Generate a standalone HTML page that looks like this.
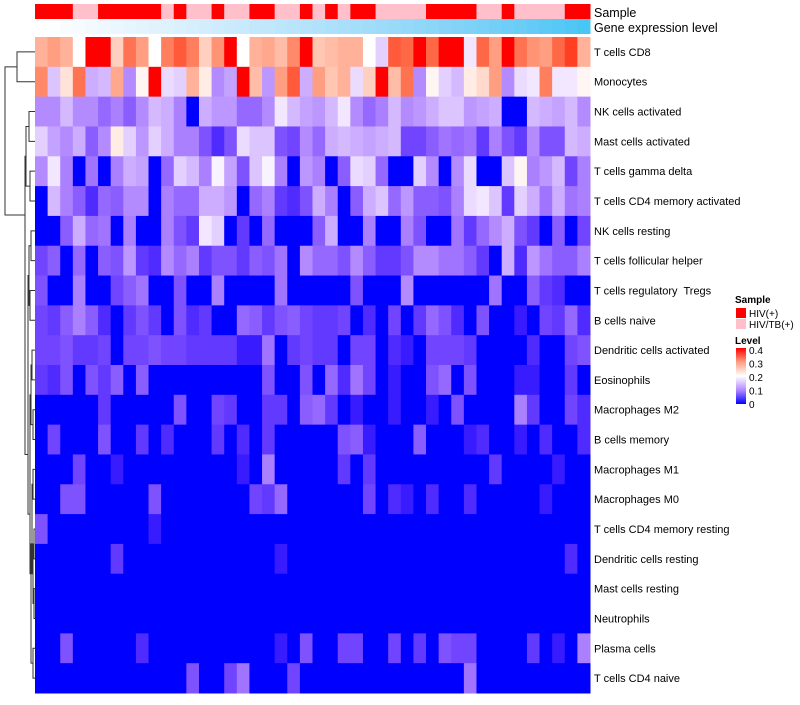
<!DOCTYPE html>
<html><head><meta charset="utf-8"><style>
body{margin:0;background:#fff;font-family:"Liberation Sans",sans-serif;}
svg text{font-family:"Liberation Sans",sans-serif;white-space:pre;}
</style></head><body>
<svg id="chart" width="800" height="700" xmlns="http://www.w3.org/2000/svg">
<g id="dendro" stroke="#333" stroke-width="1" fill="none"></g>
<g id="cells"></g>
<g id="annot"></g>
<g id="labels" font-size="11" fill="#000"></g>
<text x="594" y="17" font-size="12.5">Sample</text>
<text x="594" y="32" font-size="12.5">Gene expression level</text>
<g id="legend"></g>
</svg>
<script>
const rowNames=["T cells CD8","Monocytes","NK cells activated","Mast cells activated","T cells gamma delta","T cells CD4 memory activated","NK cells resting","T cells follicular helper","T cells regulatory  Tregs","B cells naive","Dendritic cells activated","Eosinophils","Macrophages M2","B cells memory","Macrophages M1","Macrophages M0","T cells CD4 memory resting","Dendritic cells resting","Mast cells resting","Neutrophils","Plasma cells","T cells CD4 naive"];
const sampleGroups=[1,1,1,0,0,1,1,1,1,1,0,1,0,0,1,0,0,1,1,0,0,1,0,1,0,1,1,0,0,0,0,1,1,1,1,0,0,1,0,0,0,0,1,1];
const legendTicks=[0,0.1,0.2,0.3,0.4];
const r1=[.28,.3,.28,.2,.4,.4,.25,.34,.3,.2,.33,.36,.33,.25,.31,.4,.2,.28,.29,.27,.32,.4,.26,.27,.28,.28,.2,.16,.36,.35,.4,.35,.4,.4,.18,.35,.3,.4,.34,.31,.3,.35,.38,.28];
const r2=[.32,.15,.23,.34,.13,.14,.29,.1,.21,.4,.17,.16,.28,.22,.1,.12,.4,.27,.11,.3,.36,.13,.3,.26,.28,.17,.25,.4,.27,.34,.1,.21,.16,.14,.22,.24,.3,.1,.17,.18,.33,.18,.18,.21];
const r3=[.1,.1,.14,.1,.1,.07,.09,.06,.1,.14,.13,.09,0,.13,.11,.11,.07,.07,.1,.18,.14,.12,.11,.14,.18,.1,.07,.09,.14,.1,.11,.13,.15,.15,.11,.12,.13,0,0,.14,.13,.12,.14,.1];
const r4=[.16,.12,.1,.13,.06,.1,.22,.16,.11,.16,.13,.09,.09,.05,.02,.05,.17,.15,.15,.05,.04,.1,.07,.13,.14,.13,.12,.13,.14,.04,.04,.06,.08,.07,.08,.03,.09,.05,.03,.1,.05,.05,.14,.13];
const r5=[.1,.18,.09,0,.08,0,.09,.13,.12,0,.07,.16,.14,.09,.19,.12,.05,.15,.19,.09,0,.11,.09,0,.06,.17,.16,.07,0,0,.16,.1,0,.1,.17,0,0,.15,.21,.09,.11,.14,.04,.09];
const r6=[0,.14,.09,.06,.02,.07,.06,.1,.1,0,.09,.07,.07,.13,.13,.11,0,.07,.09,.03,.02,.05,.13,.09,0,.06,.13,.15,.07,.11,.06,.06,.05,.09,.17,.18,.15,.03,.16,.13,.08,.13,.08,.09];
const r7=[0,0,.06,.13,.07,.08,0,.09,0,0,.09,.05,.03,.18,.16,0,.03,0,.07,0,0,0,.06,.13,0,0,.09,0,0,.09,.05,0,0,.08,.03,.07,.1,.13,.05,.03,0,.06,0,.04];
const r8=[.04,.06,0,.07,0,.06,.05,.11,.03,.02,.1,.07,.09,.03,.05,.05,.03,.06,.05,.08,0,.1,.07,.07,.05,.1,.06,.03,.03,.05,.1,.1,.08,.08,.06,.03,0,.13,.02,.11,.08,.06,.06,.09];
const r9=[.05,0,0,.09,0,0,.04,.06,.08,0,0,.05,0,0,.09,0,0,0,0,.08,0,0,0,0,0,.05,0,0,0,.1,0,0,0,0,0,0,.08,0,0,.06,.03,.02,0,0];
const r10=[.04,.03,.06,.09,.06,.02,0,.03,.05,.03,0,.05,.02,.03,0,0,.07,.06,.03,.05,.06,.04,.03,.03,.04,0,.02,0,.04,0,.03,.07,.05,.02,0,.05,0,0,.01,0,.04,.03,.07,.02];
const r11=[.04,.04,.05,.03,.03,.04,0,.04,.04,.05,.04,.04,.03,.03,.03,.03,.01,.01,.08,0,.03,.04,.03,.03,0,.04,.04,0,.02,.01,0,.04,.04,.04,.03,0,0,0,0,.02,0,0,.04,.05];
const r12=[.03,.02,.05,0,.05,.03,.06,0,.06,0,0,0,0,0,0,0,0,0,.05,0,0,.05,0,.07,.02,.08,.04,0,.01,0,0,.05,.07,0,.05,0,0,0,.01,.01,0,0,.03,0];
const r13=[0,0,0,0,0,.03,0,0,0,0,0,.05,0,0,.04,.03,0,0,.03,.03,0,.06,.07,.03,0,.01,0,0,.01,0,0,.01,0,.05,0,0,0,0,.09,.03,0,0,.04,.02];
const r14=[0,.04,0,0,0,.05,0,0,.03,0,.02,0,0,0,.03,0,.02,0,.03,0,0,0,0,0,.05,.06,.01,0,0,0,.06,0,0,0,.01,.02,0,0,.01,0,.02,0,0,.02];
const r15=[0,0,0,.04,0,0,.01,0,0,0,0,0,0,0,0,0,.01,0,.09,0,0,0,0,0,.03,0,.03,0,0,0,0,0,0,0,0,0,.03,0,0,0,0,.01,0,0];
const r16=[0,0,.05,.05,0,0,0,0,0,.05,0,0,0,0,0,0,0,.04,.03,.07,0,0,0,0,0,0,.04,0,.02,.01,0,.02,0,0,.02,0,0,0,0,0,.01,0,0,0];
const r17=[.05,0,0,0,0,0,0,0,0,.01,0,0,0,0,0,0,0,0,0,0,0,0,0,0,0,0,0,0,0,0,0,0,0,0,0,0,0,0,0,0,0,0,0,0];
const r18=[0,0,0,0,0,0,.03,0,0,0,0,0,0,0,0,0,0,0,0,.01,0,0,0,0,0,0,0,0,0,0,0,0,0,0,0,0,0,0,0,0,0,0,.02,0];
const r19=[0,0,0,0,0,0,0,0,0,0,0,0,0,0,0,0,0,0,0,0,0,0,0,0,0,0,0,0,0,0,0,0,0,0,0,0,0,0,0,0,0,0,0,0];
const r20=[0,0,0,0,0,0,0,0,0,0,0,0,0,0,0,0,0,0,0,0,0,0,0,0,0,0,0,0,0,0,0,0,0,0,0,0,0,0,0,0,0,0,0,0];
const r21=[0,0,.05,0,0,0,0,0,.02,0,0,0,0,0,0,0,0,0,0,.01,0,.05,0,0,.04,.04,0,0,.04,0,.03,0,.05,.04,.04,0,0,0,0,.03,0,.01,0,.09];
const r22=[0,0,0,0,0,0,0,0,0,0,0,0,.05,0,0,.04,.08,0,0,0,.04,0,0,0,0,0,0,0,0,0,0,0,0,0,.08,0,0,0,0,0,0,0,0,0];
const values=[r1,r2,r3,r4,r5,r6,r7,r8,r9,r10,r11,r12,r13,r14,r15,r16,r17,r18,r19,r20,r21,r22];

const NS="http://www.w3.org/2000/svg";
const X0=35,X1=590,Y0=37,Y1=693;
const nCols=sampleGroups.length,nRows=rowNames.length;
const cw=(X1-X0)/nCols,rh=(Y1-Y0)/nRows;
const xPos=c=>X0+c*cw, yPos=r=>Y0+r*rh;

function toLin(c){c/=255;return c<=0.04045?c/12.92:Math.pow((c+0.055)/1.055,2.4);}
function fromLin(c){c=c<=0.0031308?12.92*c:1.055*Math.pow(c,1/2.4)-0.055;return Math.max(0,Math.min(255,Math.round(c*255)));}
function rgb2lab(r,g,b){r=toLin(r);g=toLin(g);b=toLin(b);
 let x=(r*0.4124+g*0.3576+b*0.1805)/0.95047,y=r*0.2126+g*0.7152+b*0.0722,z=(r*0.0193+g*0.1192+b*0.9505)/1.08883;
 const f=t=>t>0.008856?Math.cbrt(t):7.787*t+16/116;x=f(x);y=f(y);z=f(z);
 return [116*y-16,500*(x-y),200*(y-z)];}
function lab2rgb(L,a,b){let y=(L+16)/116,x=a/500+y,z=y-b/200;
 const fi=t=>t*t*t>0.008856?t*t*t:(t-16/116)/7.787;x=fi(x)*0.95047;y=fi(y);z=fi(z)*1.08883;
 const r=x*3.2406+y*-1.5372+z*-0.4986,g=x*-0.9689+y*1.8758+z*0.0415,bb=x*0.0557+y*-0.2040+z*1.0570;
 return `rgb(${fromLin(r)},${fromLin(g)},${fromLin(bb)})`;}
const LB=rgb2lab(0,0,255),LW=rgb2lab(255,255,255),LR=rgb2lab(255,0,0);
function color(v){v=Math.max(0,Math.min(0.4,v));let a,b,t;
 if(v<=0.2){a=LB;b=LW;t=v/0.2;}else{a=LW;b=LR;t=(v-0.2)/0.2;}
 return lab2rgb(a[0]+(b[0]-a[0])*t,a[1]+(b[1]-a[1])*t,a[2]+(b[2]-a[2])*t);}
const LS=rgb2lab(255,255,255),LE=rgb2lab(72,198,245);
function geneColor(t){return lab2rgb(LS[0]+(LE[0]-LS[0])*t,LS[1]+(LE[1]-LS[1])*t,LS[2]+(LE[2]-LS[2])*t);}

const cells=document.getElementById('cells');
values.forEach((row,r)=>row.forEach((v,c)=>{
 const el=document.createElementNS(NS,'rect');
 el.setAttribute('x',xPos(c));el.setAttribute('y',yPos(r));
 el.setAttribute('width',cw+0.5);el.setAttribute('height',rh+0.5);
 el.setAttribute('fill',color(v));
 
 
 cells.appendChild(el);
}));
const annot=document.getElementById('annot');
sampleGroups.forEach((g,c)=>{
 const s=document.createElementNS(NS,'rect');
 s.setAttribute('x',xPos(c));s.setAttribute('y',4);s.setAttribute('width',cw+0.5);s.setAttribute('height',15);
 s.setAttribute('fill',g?'#FF0000':'#FFC0CB');
 
 
 annot.appendChild(s);
 const e=document.createElementNS(NS,'rect');
 e.setAttribute('x',xPos(c));e.setAttribute('y',19);e.setAttribute('width',cw+0.5);e.setAttribute('height',15);
 e.setAttribute('fill',geneColor(c/(nCols-1)));
 
 
 annot.appendChild(e);
});
const labels=document.getElementById('labels');
rowNames.forEach((n,r)=>{
 const t=document.createElementNS(NS,'text');
 t.setAttribute('x',594);t.setAttribute('y',yPos(r)+rh/2+4);t.textContent=n;
 
 
 labels.appendChild(t);
});
const yc=r=>yPos(r)+rh/2;
const dsegs=[];
function join(x,ya,yb,xa,xb){dsegs.push(`M${xa},${ya}H${x}V${yb}H${xb}`);}
join(17,yc(0),yc(1),X0,X0);
join(29,yc(2),yc(3),X0,X0);
join(30,yc(4),yc(5),X0,X0);
join(26,(yc(2)+yc(3))/2,(yc(4)+yc(5))/2,29,30);
join(31,yc(6),yc(7),X0,X0);
join(30,yc(8),yc(9),X0,X0);
join(29,(yc(6)+yc(7))/2,(yc(8)+yc(9))/2,31,30);
join(32,yc(10),yc(11),X0,X0);
join(33,yc(12),yc(13),X0,X0);
join(31,(yc(10)+yc(11))/2,(yc(12)+yc(13))/2,32,33);
join(33,yc(14),yc(15),X0,X0);
join(34,yc(16),yc(17),X0,X0);
join(34,yc(18),yc(19),X0,X0);
join(33,(yc(16)+yc(17))/2,(yc(18)+yc(19))/2,34,34);
join(32,(yc(14)+yc(15))/2,(yc(16)+yc(19))/2,33,33);
join(33,yc(20),yc(21),X0,X0);
join(31,(yc(14)+yc(19))/2,(yc(20)+yc(21))/2,32,33);
join(30,(yc(10)+yc(13))/2,(yc(14)+yc(21))/2,31,31);
join(28,(yc(6)+yc(9))/2,(yc(10)+yc(21))/2,29,30);
join(25,(yc(2)+yc(5))/2,(yc(6)+yc(21))/2,26,28);
join(5,(yc(0)+yc(1))/2,215,17,25);
const dg=document.getElementById('dendro');
dsegs.forEach(d=>{const p=document.createElementNS(NS,'path');p.setAttribute('d',d);
 
 
 dg.appendChild(p);});
const lg=document.getElementById('legend');
lg.innerHTML=`
<text x="735" y="303" font-size="10" font-weight="bold">Sample</text>
<rect x="736" y="308" width="10" height="10" fill="#FF0000"/>
<text x="749" y="317" font-size="10">HIV(+)</text>
<rect x="736" y="319" width="10" height="10" fill="#FFC0CB"/>
<text x="749" y="328" font-size="10">HIV/TB(+)</text>
<text x="735" y="344" font-size="10" font-weight="bold">Level</text>
<defs><linearGradient id="lvl" x1="0" y1="1" x2="0" y2="0">
<stop offset="0" stop-color="${color(0)}"/><stop offset="0.25" stop-color="${color(0.1)}"/><stop offset="0.5" stop-color="${color(0.2)}"/><stop offset="0.75" stop-color="${color(0.3)}"/><stop offset="1" stop-color="${color(0.4)}"/></linearGradient></defs>
<rect x="736" y="348" width="10" height="56" fill="url(#lvl)"/>`;
legendTicks.forEach(v=>{
 const y=404-v/0.4*54;
 const t=document.createElementNS(NS,'text');
 t.setAttribute('x',749);t.setAttribute('y',y+4);t.setAttribute('font-size','10');t.textContent=String(v);
 
 
 lg.appendChild(t);
});
</script>
</body></html>
